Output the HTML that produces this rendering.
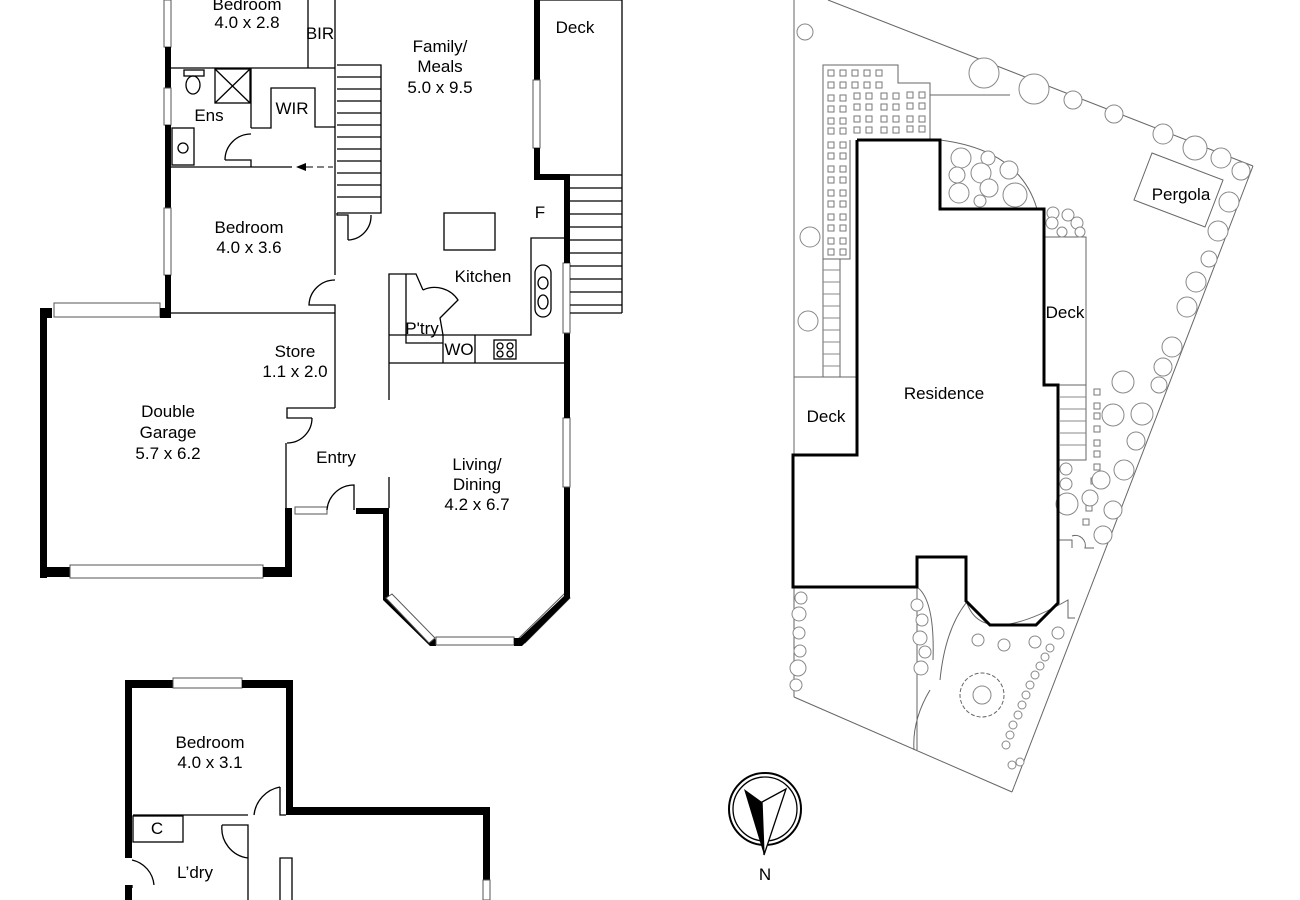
<!DOCTYPE html>
<html><head><meta charset="utf-8"><style>
html,body{margin:0;padding:0;background:#fff}
svg{display:block}
text{font-family:"Liberation Sans",Arial,sans-serif;font-size:17px;fill:#000;text-anchor:middle}
.w{fill:#000}
.t{fill:none;stroke:#000;stroke-width:1.3}
.win{fill:#fff;stroke:#555;stroke-width:1}
.g{fill:none;stroke:#666;stroke-width:1}
.tr{fill:#fff;stroke:#888;stroke-width:1}
</style></head><body>
<svg width="1300" height="900" viewBox="0 0 1300 900" xmlns="http://www.w3.org/2000/svg">
<rect class="win" x="164" y="0" width="7" height="47"/>
<rect class="w" x="165" y="47" width="6" height="41"/>
<rect class="win" x="164" y="88" width="7" height="37"/>
<rect class="w" x="165" y="125" width="6" height="83"/>
<rect class="win" x="164" y="208" width="7" height="67"/>
<rect class="w" x="165" y="275" width="6" height="42"/>
<line class="t" x1="171" y1="68" x2="335" y2="68" stroke-width="2"/>
<line class="t" x1="308" y1="0" x2="308" y2="68"/>
<line class="t" x1="335" y1="0" x2="335" y2="275" stroke-width="2"/>
<rect class="t" x="215" y="69" width="35" height="34"/>
<line class="t" x1="215" y1="69" x2="250" y2="103"/><line class="t" x1="250" y1="69" x2="215" y2="103"/>
<rect class="t" x="184" y="70" width="20" height="6"/>
<ellipse class="t" cx="193" cy="85" rx="7" ry="9"/>
<rect class="t" x="172" y="128" width="22" height="37"/>
<circle class="t" cx="183" cy="148" r="5"/>
<line class="t" x1="251" y1="68" x2="251" y2="128"/>
<polyline class="t" points="251,128 271,128 271,88 315,88 315,127 335,127"/>
<path class="t" d="M225,160 A26,26 0 0 1 251,134 M225,160 L251,160 L251,167"/>
<line class="t" x1="171" y1="167" x2="292" y2="167" stroke-width="2"/>
<polygon points="296,167 306,163 306,171" fill="#000"/>
<line x1="306" y1="167" x2="333" y2="167" stroke="#000" stroke-width="1" stroke-dasharray="7,4"/>
<g class="t"><polyline points="337,65 381,65 381,213 337,213"/>
<line x1="337" y1="77" x2="381" y2="77"/><line x1="337" y1="89" x2="381" y2="89"/><line x1="337" y1="101" x2="381" y2="101"/><line x1="337" y1="113" x2="381" y2="113"/><line x1="337" y1="125" x2="381" y2="125"/><line x1="337" y1="137" x2="381" y2="137"/><line x1="337" y1="149" x2="381" y2="149"/><line x1="337" y1="161" x2="381" y2="161"/><line x1="337" y1="173" x2="381" y2="173"/><line x1="337" y1="185" x2="381" y2="185"/><line x1="337" y1="197" x2="381" y2="197"/>
<polyline points="337,213 337,215 348,215 348,240"/><path d="M348,240 A24,24 0 0 0 371,215"/></g>
<path class="t" d="M335,280 A26,26 0 0 0 309,305 L335,305 L335,313"/>
<rect class="w" x="40" y="308" width="12" height="10"/>
<rect class="win" x="54" y="303" width="106" height="14"/>
<rect class="w" x="160" y="308" width="11" height="10"/>
<line class="t" x1="171" y1="313" x2="335" y2="313" stroke-width="2"/>
<rect class="w" x="40" y="308" width="7" height="270"/>
<rect class="w" x="40" y="567" width="30" height="10"/>
<rect class="win" x="70" y="565" width="193" height="13"/>
<rect class="w" x="263" y="567" width="29" height="10"/>
<rect class="w" x="285" y="508" width="7" height="69"/>
<line class="t" x1="335" y1="313" x2="335" y2="408" stroke-width="2"/>
<polyline class="t" points="335,408 287,408 287,418 312,418"/>
<path class="t" d="M312,418 A25,25 0 0 1 287,443"/>
<line class="t" x1="286" y1="443" x2="286" y2="508"/>
<rect class="win" x="295" y="507" width="32" height="7"/>
<path class="t" d="M327,510 A27,27 0 0 1 354,485 L354,510"/>
<polygon class="w" points="356,508 389,508 389,597 436,640 436,646 430,646 383,600 383,514 356,514"/>
<rect class="win" x="436" y="637" width="78" height="8"/>
<polygon class="win" points="386,598 392,594 435,638 429,643"/>
<polygon class="win" points="564,594 570,598 525,643 519,638"/>
<polygon class="w" points="514,638 520,638 564,596 564,487 570,487 570,598 522,646 514,646"/>
<rect class="win" x="563" y="418" width="7" height="69"/>
<rect class="w" x="564" y="333" width="6" height="85"/>
<rect class="win" x="563" y="263" width="7" height="70"/>
<rect class="w" x="564" y="177" width="6" height="86"/>
<rect class="w" x="534" y="174" width="36" height="6"/>
<rect class="w" x="534" y="0" width="6" height="80"/>
<rect class="win" x="533" y="80" width="7" height="68"/>
<rect class="w" x="534" y="148" width="6" height="32"/>
<line class="t" x1="389" y1="363" x2="389" y2="400"/>
<line class="t" x1="389" y1="477" x2="389" y2="508"/>
<line class="t" x1="389" y1="363" x2="566" y2="363" stroke-width="2"/>
<rect class="t" x="444" y="213" width="51" height="37"/>
<polyline class="t" points="566,238 531,238 531,335 389,335"/>
<rect class="t" x="535" y="265" width="16" height="52" rx="8"/>
<ellipse class="t" cx="543" cy="283" rx="5" ry="6"/><ellipse class="t" cx="543" cy="302" rx="5" ry="7"/>
<polyline class="t" points="389,363 389,274 416,274 423,290"/>
<path class="t" d="M423,290 A28,28 0 0 1 458,300 L440,318 L443,335"/>
<polyline class="t" points="406,274 406,343 443,343"/>
<line class="t" x1="443" y1="335" x2="443" y2="363"/>
<line class="t" x1="475" y1="335" x2="475" y2="363"/>
<rect class="t" x="494" y="340" width="22" height="19"/>
<circle class="t" cx="500" cy="346" r="3"/><circle class="t" cx="510" cy="346" r="3"/><circle class="t" cx="500" cy="354" r="3"/><circle class="t" cx="510" cy="354" r="3"/>
<line class="t" x1="540" y1="0" x2="622" y2="0"/>
<line class="t" x1="622" y1="0" x2="622" y2="313"/>
<g class="t"><line x1="540" y1="175" x2="622" y2="175"/><line x1="570" y1="313" x2="622" y2="313"/>
<line x1="570" y1="188" x2="622" y2="188"/><line x1="570" y1="201" x2="622" y2="201"/><line x1="570" y1="214" x2="622" y2="214"/><line x1="570" y1="227" x2="622" y2="227"/><line x1="570" y1="240" x2="622" y2="240"/><line x1="570" y1="253" x2="622" y2="253"/><line x1="570" y1="266" x2="622" y2="266"/><line x1="570" y1="279" x2="622" y2="279"/><line x1="570" y1="292" x2="622" y2="292"/><line x1="570" y1="305" x2="622" y2="305"/></g>
<text x="247" y="10">Bedroom</text><text x="247" y="28">4.0 x 2.8</text>
<text x="320" y="39" font-size="14">BIR</text>
<text x="440" y="52">Family/</text><text x="440" y="72">Meals</text><text x="440" y="93">5.0 x 9.5</text>
<text x="575" y="33">Deck</text>
<text x="209" y="121">Ens</text>
<text x="292" y="114">WIR</text>
<text x="249" y="233">Bedroom</text><text x="249" y="253">4.0 x 3.6</text>
<text x="540" y="218">F</text>
<text x="483" y="282">Kitchen</text>
<text x="422" y="334" font-size="14">P'try</text>
<text x="459" y="355" font-size="14">WO</text>
<text x="295" y="357">Store</text><text x="295" y="377">1.1 x 2.0</text>
<text x="168" y="417">Double</text><text x="168" y="438">Garage</text><text x="168" y="459">5.7 x 6.2</text>
<text x="336" y="463">Entry</text>
<text x="477" y="470">Living/</text><text x="477" y="490">Dining</text><text x="477" y="510">4.2 x 6.7</text>
<rect class="w" x="125" y="680" width="48" height="8"/>
<rect class="win" x="173" y="678" width="69" height="10"/>
<rect class="w" x="242" y="680" width="50" height="8"/>
<rect class="w" x="125" y="680" width="7" height="178"/>
<rect class="w" x="125" y="885" width="7" height="15"/>
<rect class="w" x="286" y="680" width="7" height="134"/>
<rect class="w" x="286" y="807" width="203" height="8"/>
<rect class="w" x="483" y="807" width="7" height="73"/>
<rect class="win" x="483" y="880" width="7" height="20"/>
<rect class="t" x="133" y="816" width="50" height="26"/>
<line class="t" x1="133" y1="815" x2="248" y2="815"/>
<path class="t" d="M280,787 A32,32 0 0 0 254,815 M280,787 L280,815 L286,815"/>
<path class="t" d="M222,825 L248,825 L248,900 M222,825 A30,30 0 0 0 248,858"/>
<polyline class="t" points="280,900 280,858 292,858 292,900"/>
<path class="t" d="M132,860 A28,28 0 0 1 154,885 M132,885 L132,888"/>
<text x="210" y="748">Bedroom</text><text x="210" y="768">4.0 x 3.1</text>
<text x="157" y="834" font-size="14">C</text>
<text x="195" y="878">L’dry</text>
<g class="g">
<line x1="794" y1="0" x2="794" y2="697"/>
<line x1="828" y1="0" x2="1253" y2="166"/>
<line x1="1253" y1="166" x2="1012" y2="792"/>
<line x1="794" y1="697" x2="1012" y2="792"/>
<polyline points="823,259 823,65 898,65 898,83 930,83 930,140"/>
<line x1="930" y1="95" x2="1010" y2="95"/>
<polyline points="850,140 850,259 823,259"/>
<line x1="823" y1="259" x2="823" y2="377"/><line x1="840" y1="259" x2="840" y2="377"/>
<polyline points="794,377 857,377"/>
<path d="M940,140 Q1020,150 1037,209"/>
<polyline points="1044,237 1086,237 1086,460 1058,460"/>
<line x1="1044" y1="385" x2="1086" y2="385"/>
<polygon points="1152,153 1223,180 1205,227 1134,200"/>
<path d="M917,587 L917,750 M917,587 Q935,600 933,660 M940,680 Q945,630 966,603 M930,690 Q912,720 914,750"/>
<path d="M966,600 Q980,650 1068,600 L1068,618 L1075,618"/>
<circle cx="982" cy="695" r="22" stroke-dasharray="4,2"/>
<path d="M1058,540 L1072,540 L1072,548 M1072,536 A10,10 0 0 1 1085,548 L1094,548"/>
</g>
<g stroke="#888" stroke-width="1">
<line x1="823" y1="270" x2="840" y2="270"/><line x1="823" y1="282" x2="840" y2="282"/><line x1="823" y1="294" x2="840" y2="294"/><line x1="823" y1="306" x2="840" y2="306"/><line x1="823" y1="318" x2="840" y2="318"/><line x1="823" y1="330" x2="840" y2="330"/><line x1="823" y1="342" x2="840" y2="342"/><line x1="823" y1="354" x2="840" y2="354"/><line x1="823" y1="366" x2="840" y2="366"/>
<line x1="1060" y1="397" x2="1086" y2="397"/><line x1="1060" y1="409" x2="1086" y2="409"/><line x1="1060" y1="421" x2="1086" y2="421"/><line x1="1060" y1="433" x2="1086" y2="433"/><line x1="1060" y1="445" x2="1086" y2="445"/>
</g>
<g fill="none" stroke="#777" stroke-width="1">
<rect x="828" y="70" width="6" height="6"/><rect x="840" y="70" width="6" height="6"/><rect x="852" y="70" width="6" height="6"/><rect x="864" y="70" width="6" height="6"/><rect x="876" y="70" width="6" height="6"/>
<rect x="828" y="82" width="6" height="6"/><rect x="840" y="82" width="6" height="6"/><rect x="852" y="82" width="6" height="6"/><rect x="864" y="82" width="6" height="6"/><rect x="876" y="82" width="6" height="6"/>
<rect x="828" y="95" width="6" height="6"/><rect x="840" y="95" width="6" height="6"/><rect x="854" y="93" width="6" height="6"/><rect x="866" y="93" width="6" height="6"/><rect x="881" y="93" width="6" height="6"/><rect x="893" y="93" width="6" height="6"/><rect x="907" y="92" width="6" height="6"/><rect x="919" y="92" width="6" height="6"/>
<rect x="828" y="106" width="6" height="6"/><rect x="840" y="106" width="6" height="6"/><rect x="854" y="104" width="6" height="6"/><rect x="866" y="104" width="6" height="6"/><rect x="881" y="104" width="6" height="6"/><rect x="893" y="104" width="6" height="6"/><rect x="907" y="103" width="6" height="6"/><rect x="919" y="103" width="6" height="6"/>
<rect x="828" y="118" width="6" height="6"/><rect x="840" y="118" width="6" height="6"/><rect x="854" y="116" width="6" height="6"/><rect x="866" y="116" width="6" height="6"/><rect x="881" y="116" width="6" height="6"/><rect x="893" y="116" width="6" height="6"/><rect x="907" y="116" width="6" height="6"/><rect x="919" y="116" width="6" height="6"/>
<rect x="828" y="128" width="6" height="6"/><rect x="840" y="128" width="6" height="6"/><rect x="854" y="127" width="6" height="6"/><rect x="866" y="127" width="6" height="6"/><rect x="881" y="127" width="6" height="6"/><rect x="893" y="127" width="6" height="6"/><rect x="907" y="126" width="6" height="6"/><rect x="919" y="126" width="6" height="6"/>
<rect x="828" y="142" width="6" height="6"/><rect x="840" y="142" width="6" height="6"/><rect x="828" y="153" width="6" height="6"/><rect x="840" y="153" width="6" height="6"/>
<rect x="828" y="166" width="6" height="6"/><rect x="840" y="166" width="6" height="6"/><rect x="828" y="177" width="6" height="6"/><rect x="840" y="177" width="6" height="6"/>
<rect x="828" y="190" width="6" height="6"/><rect x="840" y="190" width="6" height="6"/><rect x="828" y="201" width="6" height="6"/><rect x="840" y="201" width="6" height="6"/>
<rect x="828" y="214" width="6" height="6"/><rect x="840" y="214" width="6" height="6"/><rect x="828" y="225" width="6" height="6"/><rect x="840" y="225" width="6" height="6"/>
<rect x="828" y="238" width="6" height="6"/><rect x="840" y="238" width="6" height="6"/><rect x="828" y="249" width="6" height="6"/><rect x="840" y="249" width="6" height="6"/>
<rect x="1094" y="389" width="6" height="6"/><rect x="1094" y="403" width="6" height="6"/><rect x="1094" y="413" width="6" height="6"/><rect x="1094" y="426" width="6" height="6"/><rect x="1094" y="440" width="6" height="6"/><rect x="1094" y="451" width="6" height="6"/><rect x="1094" y="464" width="6" height="6"/><rect x="1091" y="478" width="6" height="6"/><rect x="1088" y="491" width="6" height="6"/><rect x="1086" y="505" width="6" height="6"/><rect x="1083" y="519" width="6" height="6"/>
</g>
<g class="tr">
<circle cx="984" cy="73" r="15"/><circle cx="1034" cy="89" r="15"/>
<circle cx="805" cy="32" r="8"/><circle cx="1073" cy="100" r="9"/><circle cx="1114" cy="114" r="9"/><circle cx="1163" cy="134" r="10"/><circle cx="1195" cy="148" r="12"/><circle cx="1221" cy="158" r="10"/><circle cx="1241" cy="171" r="9"/>
<circle cx="1229" cy="202" r="10"/><circle cx="1218" cy="231" r="10"/><circle cx="1209" cy="259" r="8"/><circle cx="1196" cy="282" r="10"/><circle cx="1187" cy="307" r="10"/><circle cx="1172" cy="347" r="10"/><circle cx="1163" cy="367" r="9"/><circle cx="1159" cy="385" r="8"/>
<circle cx="1123" cy="382" r="11"/><circle cx="1142" cy="414" r="11"/><circle cx="1113" cy="415" r="11"/><circle cx="1136" cy="441" r="9"/><circle cx="1124" cy="470" r="10"/><circle cx="1101" cy="480" r="9"/><circle cx="1090" cy="498" r="8"/><circle cx="1113" cy="510" r="9"/><circle cx="1103" cy="535" r="9"/><circle cx="1066" cy="469" r="6"/><circle cx="1066" cy="484" r="6"/><circle cx="1067" cy="504" r="11"/>
<circle cx="810" cy="237" r="10"/><circle cx="808" cy="321" r="10"/>
<circle cx="961" cy="158" r="10"/><circle cx="988" cy="158" r="7"/><circle cx="957" cy="175" r="8"/><circle cx="981" cy="173" r="10"/><circle cx="1009" cy="170" r="9"/><circle cx="959" cy="193" r="10"/><circle cx="989" cy="188" r="9"/><circle cx="1015" cy="195" r="12"/><circle cx="980" cy="201" r="6"/>
<circle cx="1053" cy="213" r="6"/><circle cx="1068" cy="215" r="6"/><circle cx="1052" cy="223" r="6"/><circle cx="1077" cy="223" r="6"/><circle cx="1062" cy="232" r="5"/><circle cx="1080" cy="232" r="5"/>
<circle cx="801" cy="598" r="6"/><circle cx="799" cy="614" r="7"/><circle cx="799" cy="633" r="6"/><circle cx="800" cy="651" r="6"/><circle cx="798" cy="668" r="8"/><circle cx="796" cy="685" r="6"/>
<circle cx="917" cy="605" r="6"/><circle cx="922" cy="620" r="6"/><circle cx="920" cy="638" r="7"/><circle cx="925" cy="652" r="6"/><circle cx="921" cy="668" r="7"/>
<circle cx="978" cy="640" r="6"/><circle cx="1004" cy="645" r="6"/><circle cx="1035" cy="642" r="6"/><circle cx="1058" cy="633" r="6"/><circle cx="982" cy="695" r="9"/>
<circle cx="1050" cy="648" r="4"/><circle cx="1045" cy="657" r="4"/><circle cx="1040" cy="666" r="4"/><circle cx="1035" cy="675" r="4"/><circle cx="1030" cy="685" r="4"/><circle cx="1026" cy="695" r="4"/><circle cx="1022" cy="705" r="4"/><circle cx="1018" cy="715" r="4"/><circle cx="1013" cy="725" r="4"/><circle cx="1010" cy="735" r="4"/><circle cx="1006" cy="745" r="4"/><circle cx="1012" cy="765" r="4"/><circle cx="1020" cy="762" r="4"/>
</g>
<polyline points="857,140 940,140 940,209 1044,209 1044,385 1058,385 1058,603 1036,625 990,625 966,601 966,557 917,557 917,587 793,587 793,455 857,455 857,140" fill="none" stroke="#000" stroke-width="3"/>
<text x="944" y="399">Residence</text>
<text x="826" y="422">Deck</text>
<text x="1065" y="318">Deck</text>
<text x="1181" y="200">Pergola</text>
<circle cx="765" cy="809" r="36" fill="none" stroke="#000" stroke-width="2"/>
<circle cx="765" cy="809" r="32" fill="none" stroke="#000" stroke-width="1.3"/>
<polygon points="744,789 762,802 764,855" fill="#000"/>
<polygon points="786,789 762,802 764,855" fill="#fff" stroke="#000" stroke-width="1.3"/>
<text x="765" y="880">N</text>
</svg>
</body></html>
